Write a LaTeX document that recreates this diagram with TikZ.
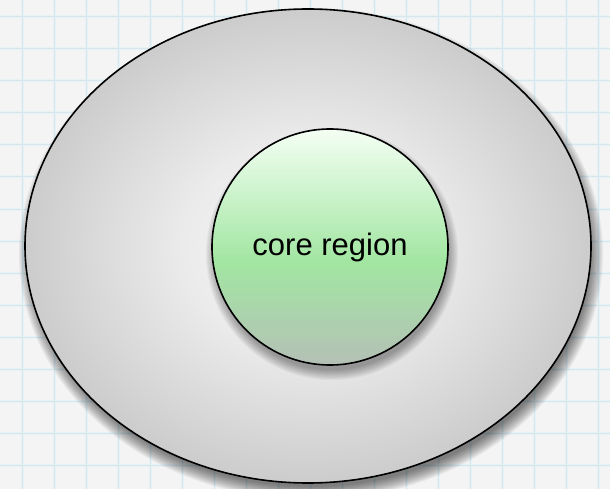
\documentclass[tikz,border=0pt]{standalone}
\usepackage{fontspec}
\setmainfont{Liberation Sans}
\usetikzlibrary{shapes.geometric}

% paper and ruling
\definecolor{paper}{HTML}{F4F4F4}
\definecolor{gridline}{HTML}{D6E8EE}
\definecolor{gridhalo}{HTML}{E8F1F4}
% outer region, radial grey
\definecolor{outercore}{HTML}{F8F8F8}
\definecolor{outermid}{HTML}{EBEBEB}
\definecolor{outerrim}{HTML}{CCCCCC}
% core region, vertical green
\definecolor{coretop}{HTML}{F4FFF4}
\definecolor{coremid}{HTML}{A2E6A2}
\definecolor{corebot}{HTML}{B4C0B6}

\pgfdeclareradialshading{outershade}{\pgfpointorigin}{%
  color(0bp)=(outercore); color(11bp)=(outermid); color(25bp)=(outerrim); color(50bp)=(outerrim)}
\pgfdeclareverticalshading{coreshade}{100bp}{%
  color(0bp)=(corebot); color(25bp)=(corebot); color(47bp)=(coremid);
  color(75bp)=(coretop); color(100bp)=(coretop)}

\begin{document}
\begin{tikzpicture}[x=1pt,y=-1pt,
  gridhaloline/.style={gridhalo, line width=3pt},
  gridrule/.style={gridline, line width=1pt},
  rim/.style={draw=black, line width=1.6pt, inner sep=0pt},
  shadowlayer/.style={fill=black, opacity=0.05}]

  % graph paper
  \fill[paper] (0,0) rectangle (610,489);
  \useasboundingbox (0,0) rectangle (610,489);
  \foreach \gx in {22,54,...,598} {\draw[gridhaloline] (\gx,0) -- (\gx,489);}
  \foreach \gy in {17,49,...,489} {\draw[gridhaloline] (0,\gy) -- (610,\gy);}
  \foreach \gx in {22,54,...,598} {\draw[gridrule] (\gx,0) -- (\gx,489);}
  \foreach \gy in {17,49,...,489} {\draw[gridrule] (0,\gy) -- (610,\gy);}

  % soft drop shadow of the outer region
  \foreach \k in {0,...,11}
    \fill[shadowlayer] (311,254) ellipse [x radius={292-1.2*\k}, y radius={246-1.2*\k}];

  % outer region
  \node[ellipse, minimum width=566pt, minimum height=474pt, rim,
        shading=outershade] (outer) at (308,246) {};

  % soft drop shadow of the core region
  \foreach \k in {0,...,9}
    \fill[shadowlayer, opacity=0.04] (332,254) circle [radius={126-1.1*\k}];

  % core region
  \node[circle, minimum size=236pt, rim, shading=coreshade] (core) at (330,247)
        {\fontsize{31}{37}\selectfont\raisebox{-3.5pt}{core region}};
\end{tikzpicture}
\end{document}
